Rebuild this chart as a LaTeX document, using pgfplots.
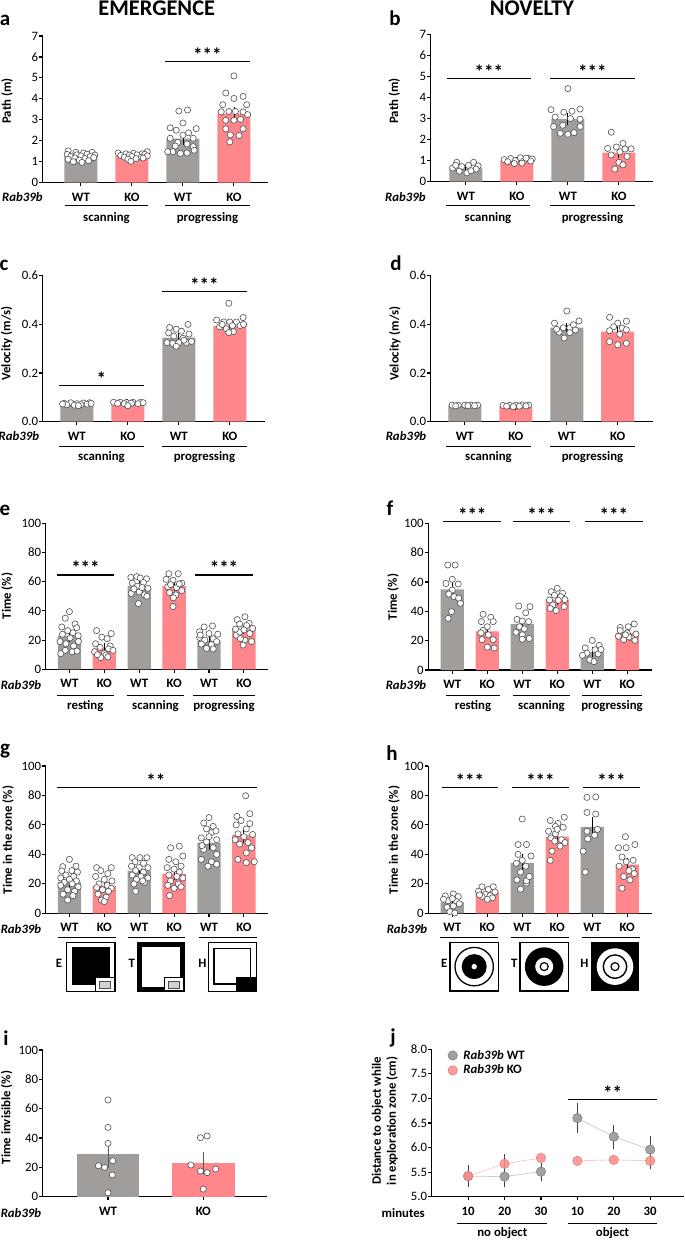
\documentclass[border=0pt]{standalone}
\usepackage{fontspec}
\setmainfont{Carlito}
\usepackage{pgfplots}
\pgfplotsset{compat=1.18}
\definecolor{wtg}{HTML}{A19D9B}
\definecolor{kop}{HTML}{FF878C}
\definecolor{dotc}{HTML}{505050}
\definecolor{jwt}{HTML}{A2A2A2}
\definecolor{jwtd}{HTML}{7A7A7A}
\definecolor{jko}{HTML}{FF8C8C}
\definecolor{jkod}{HTML}{E07474}
\pgfplotsset{
 base/.style={scale only axis, anchor=south west, clip=false,
   axis lines*=left, axis line style={line width=1.1pt, black, -},
   tick align=outside, major tick length=3.5pt,
   tick style={line width=1.1pt, black},
   ymin=0, scaled y ticks=false,
   /pgf/number format/assume math mode=true,
   xticklabel style={font=\bfseries, anchor=base, yshift=-15pt},
   yticklabel style={inner sep=1pt},
 },
 bar4/.style={base, xtick={0,1,2,3}, xticklabels={WT,KO,WT,KO}},
 bar6/.style={base, xtick={0,...,5}, xticklabels={WT,KO,WT,KO,WT,KO}, ymax=100, ytick={0,20,...,100}},
 pts/.style={only marks, mark=*, mark size=3.1pt, mark options={fill=white, draw=dotc, line width=0.6pt}},
 wbar/.style={ybar, bar shift=0pt, fill=wtg, draw=none},
 kbar/.style={ybar, bar shift=0pt, fill=kop, draw=none},
 eb/.style={draw=none, mark=none, forget plot, error bars/.cd, y dir=both, y explicit, error bar style={draw=black, line width=0.8pt}, error mark options={draw=black, line width=0.8pt, mark size=3pt}},
 ieb/.style={draw=none, mark=none, forget plot, error bars/.cd, y dir=both, y explicit, error bar style={draw=black!65, line width=0.8pt}, error mark options={draw=black!65, line width=0.8pt, mark size=3.5pt}},
 jeb/.style={draw=none, mark=none, forget plot, error bars/.cd, y dir=both, y explicit, error bar style={draw=black!75, line width=0.8pt}, error mark options={draw=black!75, line width=0.8pt, mark size=3.5pt}},
}
\tikzset{sig/.style={line width=1.1pt}, star/.style={font=\bfseries\fontsize{19}{19}\selectfont, inner sep=0pt, anchor=base},
 ylab/.style={rotate=90, font=\bfseries}, grp/.style={font=\bfseries, anchor=base},
 rab/.style={font=\bfseries\itshape, anchor=base east}, plet/.style={font=\bfseries\fontsize{21}{21}\selectfont, anchor=base}}
\begin{document}
\fontsize{12.8}{15}\selectfont
\begin{tikzpicture}
% ---------------- titles and letters
\node[font=\bfseries\fontsize{22.4}{24}\selectfont, anchor=base] at (156.7pt,-15.5pt) {EMERGENCE};
\node[font=\bfseries\fontsize{22.4}{24}\selectfont, anchor=base] at (532pt,-15.5pt) {NOVELTY};
\node[plet] at (5pt,-25pt) {a};
\node[plet] at (395pt,-25pt) {b};
\node[plet] at (4pt,-270pt) {c};
\node[plet] at (396pt,-270pt) {d};
\node[plet] at (5pt,-515pt) {e};
\node[plet] at (390pt,-515pt) {f};
\node[plet] at (5pt,-754pt) {g};
\node[plet] at (392pt,-760pt) {h};
\node[plet] at (6pt,-1045pt) {i};
\node[plet] at (393pt,-1043pt) {j};
% ---------------- y labels
\node[ylab] at (7.2pt,-101pt) {Path (m)};
\node[ylab] at (394.3pt,-101pt) {Path (m)};
\node[ylab] at (6.7pt,-343.5pt) {Velocity (m/s)};
\node[ylab] at (395pt,-343.5pt) {Velocity (m/s)};
\node[ylab] at (7.2pt,-596pt) {Time (\%)};
\node[ylab] at (393pt,-597pt) {Time (\%)};
\node[ylab] at (8pt,-840pt) {Time in the zone (\%)};
\node[ylab] at (394pt,-840pt) {Time in the zone (\%)};
\node[ylab] at (6.7pt,-1117.5pt) {Time invisible (\%)};
\node[ylab, align=center] at (385pt,-1121pt) {Distance to object while\\in exploration zone (cm)};
% ---------------- Rab39b labels
\node[rab] at (47pt,-201.7pt) {Rab39b};
\node[rab] at (430pt,-201.7pt) {Rab39b};
\node[rab] at (43.5pt,-440.7pt) {Rab39b};
\node[rab] at (430.7pt,-440.7pt) {Rab39b};
\node[rab] at (45.7pt,-689pt) {Rab39b};
\node[rab] at (430.7pt,-689pt) {Rab39b};
\node[rab] at (45.7pt,-933pt) {Rab39b};
\node[rab] at (431.7pt,-933pt) {Rab39b};
\node[rab] at (45.7pt,-1217pt) {Rab39b};
\node[font=\bfseries, anchor=base east] at (429.3pt,-1217pt) {minutes};
% ---------------- group underlines and labels
\foreach \a/\b/\y in {65/148/205, 165/250/205, 446/530/205, 550/635/205,
  59/144/446, 162/247/446, 446/531/446, 550/635/446,
  56.7/114/695, 126.7/184.3/695, 193/255/695, 446/500/695, 513/570/695, 582/642/695,
  57.7/115.7/937.7, 127.7/185/937.7, 199.3/256.7/937.7, 440/498.3/937.7, 510.7/569.3/937.7, 581.7/640/937.7,
  457.3/547.3/1223.3, 567.7/657.3/1223.3}
  {\draw[line width=1pt] (\a pt,-\y pt) -- (\b pt,-\y pt);}
\node[grp] at (106.5pt,-221pt) {scanning};
\node[grp] at (207.5pt,-221pt) {progressing};
\node[grp] at (488pt,-221pt) {scanning};
\node[grp] at (592.5pt,-221pt) {progressing};
\node[grp] at (101.5pt,-460.5pt) {scanning};
\node[grp] at (204.5pt,-460.5pt) {progressing};
\node[grp] at (488.5pt,-460.5pt) {scanning};
\node[grp] at (592.5pt,-460.5pt) {progressing};
\node[grp] at (85.3pt,-709pt) {resting};
\node[grp] at (155.5pt,-709pt) {scanning};
\node[grp] at (224pt,-709pt) {progressing};
\node[grp] at (473pt,-709pt) {resting};
\node[grp] at (541.5pt,-709pt) {scanning};
\node[grp] at (612pt,-709pt) {progressing};
\node[grp] at (502.3pt,-1236pt) {no object};
\node[grp] at (612.5pt,-1236pt) {object};
% ---------------- icons g
\node[grp] at (59pt,-967pt) {E};
\node[grp] at (131.7pt,-967pt) {T};
\node[grp] at (202.3pt,-967pt) {H};
\begin{scope}[shift={(66.7pt,-942.3pt)}, x=1pt, y=-1pt]
 \draw[line width=1.2pt] (0,0) rectangle (48.3,49.3);
 \fill (5,4.3) rectangle (43.3,42.7);
 \filldraw[fill=white, line width=1pt] (28.3,35.3) rectangle (47.7,48.7);
 \filldraw[fill=gray!35, draw=black!70, line width=0.5pt] (32.7,38.7) rectangle (44,45.5);
\end{scope}
\begin{scope}[shift={(136.7pt,-942.3pt)}, x=1pt, y=-1pt]
 \fill (0,0) rectangle (48.3,49.3);
 \fill[white] (5,4.3) rectangle (43.3,44.3);
 \filldraw[fill=white, line width=1pt] (27.3,35.3) rectangle (46.7,47.7);
 \filldraw[fill=gray!35, draw=black!70, line width=0.5pt] (31.7,38.7) rectangle (42.7,45.5);
\end{scope}
\begin{scope}[shift={(208.3pt,-942.3pt)}, x=1pt, y=-1pt]
 \draw[line width=1.2pt] (0,0) rectangle (48.3,49.3);
 \draw[line width=1.5pt] (5.7,6) rectangle (42.3,41.7);
 \fill (27.3,34.3) rectangle (47.7,48.7);
\end{scope}
% ---------------- icons h
\node[grp] at (444.3pt,-967pt) {E};
\node[grp] at (514.3pt,-967pt) {T};
\node[grp] at (584.3pt,-967pt) {H};
\begin{scope}[shift={(450pt,-942.3pt)}, x=1pt, y=-1pt]
 \draw[line width=1.2pt] (0,0) rectangle (48.3,48.7);
 \draw[line width=1.3pt] (24.2,24.3) circle (19.2pt);
 \fill (24.2,24.3) circle (12.5pt);
 \fill[white] (24.2,24.3) circle (2.7pt);
\end{scope}
\begin{scope}[shift={(520pt,-942.3pt)}, x=1pt, y=-1pt]
 \draw[line width=1.2pt] (0,0) rectangle (48.3,48.7);
 \fill (24.2,24.3) circle (19.3pt);
 \fill[white] (24.2,24.3) circle (9pt);
 \draw[line width=1.2pt] (24.2,24.3) circle (4pt);
\end{scope}
\begin{scope}[shift={(590.7pt,-942.3pt)}, x=1pt, y=-1pt]
 \fill (0,0) rectangle (48.7,48.7);
 \fill[white] (24.3,24.3) circle (18.3pt);
 \draw[line width=1.4pt] (24.3,24.3) circle (11.7pt);
 \draw[line width=1.2pt] (24.3,24.3) circle (4pt);
\end{scope}
% ================= panel a
\begin{axis}[bar4, at={(42.7pt,-182.7pt)}, width=225.3pt, height=146.7pt, xmin=-0.75, xmax=3.668, ymax=7, ytick={0,...,7}]
\addplot[wbar, bar width=33pt] coordinates {(0,1.25) (2,2.1)};
\addplot[kbar, bar width=33pt] coordinates {(1,1.27) (3,3.3)};
\addplot[pts] coordinates {(-0.25,1.52) (-0.1,1.45) (0.05,1.42) (0.22,1.45) (-0.27,1.35) (-0.08,1.33) (0.12,1.36) (0.27,1.32) (-0.2,1.25) (0.0,1.28) (0.18,1.25) (-0.12,1.18) (0.08,1.15) (0.25,1.2) (-0.25,1.12) (-0.03,1.08) (0.15,1.05) (-0.15,1.0) (0.02,0.97)
(0.73,1.42) (0.88,1.38) (1.03,1.40) (1.2,1.38) (1.3,1.48) (0.78,1.3) (0.95,1.32) (1.1,1.33) (1.25,1.35) (0.85,1.22) (1.0,1.25) (1.18,1.22) (1.3,1.28) (0.92,1.12) (1.08,1.15) (0.98,1.02) (1.22,1.18)
(1.92,3.42) (2.09,3.47) (2.0,2.85) (1.75,2.62) (1.87,2.5) (2.26,2.58) (2.11,2.38) (2.0,2.27) (1.75,2.12) (2.2,2.12) (1.9,1.92) (2.08,1.85) (1.85,1.75) (2.2,1.72) (1.8,1.48) (1.95,1.4) (2.08,1.42) (2.22,1.55) (1.7,1.48)
(3.0,5.1) (2.84,4.28) (3.18,4.12) (3.0,4.02) (2.78,3.72) (3.25,3.72) (2.75,3.38) (2.9,3.4) (3.03,3.4) (3.18,3.38) (3.27,3.25) (2.84,2.98) (3.0,2.98) (3.13,3.02) (2.84,2.57) (3.18,2.57) (2.93,2.28) (3.1,2.25) (2.92,1.95)};
\addplot[eb] coordinates {(0,1.25) +- (0,0.04) (1,1.27) +- (0,0.03) (2,2.1) +- (0,0.15) (3,3.3) +- (0,0.17)};
\draw[sig] (1.65,5.8) -- (3.32,5.8);
\node[star] at (2.48,5.8) {***};
\end{axis}
% ================= panel b
\begin{axis}[bar4, at={(430.7pt,-181.7pt)}, width=222.7pt, height=147.4pt, xmin=-0.69, xmax=3.677, ymax=7, ytick={0,...,7}]
\addplot[wbar, bar width=33pt] coordinates {(0,0.63) (2,2.98)};
\addplot[kbar, bar width=33pt] coordinates {(1,1.0) (3,1.38)};
\addplot[pts] coordinates {(-0.18,0.92) (0.15,0.92) (-0.26,0.65) (-0.08,0.72) (0.05,0.78) (0.24,0.75) (0.2,0.6) (-0.13,0.5) (0.02,0.42) (0.1,0.52) (-0.2,0.78)
(0.75,1.05) (0.88,1.1) (1.07,1.14) (1.23,1.1) (1.3,1.08) (0.82,0.95) (0.97,1.0) (1.13,0.98) (1.27,0.98) (0.95,0.86) (1.1,0.88) (1.18,1.12)
(2.0,4.42) (1.67,3.42) (1.92,3.3) (2.08,3.35) (2.24,3.45) (1.75,3.07) (2.05,3.0) (2.24,2.97) (1.9,2.68) (1.72,2.62) (2.24,2.62) (1.85,2.3) (2.12,2.33) (2.0,2.25)
(2.85,2.35) (3.08,1.82) (2.78,1.58) (2.95,1.65) (3.24,1.56) (3.02,1.42) (2.85,1.27) (3.16,1.2) (3.0,0.92) (3.08,0.8) (2.92,0.6) (3.12,1.55)};
\addplot[eb] coordinates {(0,0.63) +- (0,0.05) (1,1.0) +- (0,0.03) (2,2.98) +- (0,0.15) (3,1.38) +- (0,0.13)};
\draw[sig] (-0.37,4.91) -- (1.27,4.91);
\draw[sig] (1.65,4.91) -- (3.31,4.91);
\node[star] at (0.45,4.91) {***};
\node[star] at (2.48,4.91) {***};
\end{axis}
% ================= panel c
\begin{axis}[bar4, at={(42.7pt,-421.7pt)}, width=222.3pt, height=146pt, xmin=-0.67, xmax=3.69, ymax=0.6, ytick={0,0.2,0.4,0.6},
  yticklabel style={/pgf/number format/.cd, fixed, fixed zerofill, precision=1}]
\addplot[wbar, bar width=33pt] coordinates {(0,0.072) (2,0.346)};
\addplot[kbar, bar width=33pt] coordinates {(1,0.077) (3,0.394)};
\addplot[pts] coordinates {(-0.25,0.076) (-0.12,0.078) (0.0,0.074) (0.13,0.077) (0.25,0.078) (-0.2,0.07) (-0.05,0.068) (0.08,0.07) (0.2,0.072) (-0.28,0.073) (0.28,0.075) (0.03,0.066)
(0.72,0.08) (0.85,0.08) (0.97,0.079) (1.1,0.08) (1.25,0.08) (0.8,0.075) (0.93,0.074) (1.07,0.076) (1.2,0.074) (1.0,0.066) (1.3,0.078)
(2.18,0.40) (1.82,0.387) (1.95,0.38) (2.05,0.372) (1.8,0.365) (2.2,0.36) (1.9,0.352) (2.08,0.343) (1.77,0.325) (1.88,0.322) (2.0,0.325) (2.15,0.325) (2.25,0.33) (1.95,0.31) (2.1,0.335)
(2.98,0.487) (2.74,0.418) (2.88,0.41) (3.0,0.41) (3.13,0.41) (3.26,0.428) (2.8,0.39) (3.05,0.395) (3.2,0.395) (2.93,0.382) (3.07,0.37) (2.98,0.366) (3.27,0.4) (2.85,0.4)};
\addplot[eb] coordinates {(0,0.072) +- (0,0.002) (1,0.077) +- (0,0.002) (2,0.346) +- (0,0.006) (3,0.394) +- (0,0.007)};
\draw[sig] (-0.35,0.148) -- (1.31,0.148);
\draw[sig] (1.67,0.536) -- (3.33,0.536);
\node[star] at (0.48,0.148) {*};
\node[star] at (2.5,0.536) {***};
\end{axis}
% ================= panel d
\begin{axis}[bar4, at={(430.7pt,-421.7pt)}, width=222.7pt, height=146pt, xmin=-0.67, xmax=3.70, ymax=0.6, ytick={0,0.2,0.4,0.6},
  yticklabel style={/pgf/number format/.cd, fixed, fixed zerofill, precision=1}]
\addplot[wbar, bar width=33pt] coordinates {(0,0.067) (2,0.387)};
\addplot[kbar, bar width=33pt] coordinates {(1,0.063) (3,0.37)};
\addplot[pts] coordinates {(-0.25,0.068) (-0.13,0.068) (0.0,0.068) (0.12,0.068) (0.25,0.068) (-0.18,0.065) (0.06,0.066) (0.19,0.066)
(0.75,0.067) (0.88,0.067) (1.0,0.068) (1.12,0.069) (1.25,0.068) (0.82,0.064) (0.95,0.062) (1.07,0.064) (1.2,0.065)
(2.0,0.455) (1.76,0.405) (2.24,0.414) (1.93,0.386) (2.06,0.386) (2.17,0.377) (1.85,0.368) (2.06,0.366) (1.95,0.344) (2.13,0.398) (1.8,0.38)
(2.84,0.429) (3.0,0.405) (3.17,0.413) (2.92,0.39) (3.09,0.385) (2.84,0.374) (3.17,0.378) (3.04,0.359) (2.84,0.329) (3.0,0.316) (3.17,0.322)};
\addplot[eb] coordinates {(0,0.067) +- (0,0.001) (1,0.063) +- (0,0.001) (2,0.387) +- (0,0.008) (3,0.37) +- (0,0.01)};
\end{axis}
% ================= panel e
\begin{axis}[bar6, at={(45.7pt,-669.3pt)}, width=222.6pt, height=146pt, xmin=-0.68, xmax=5.70]
\addplot[wbar, bar width=23.3pt] coordinates {(0,22.7) (2,57) (4,19.5)};
\addplot[kbar, bar width=23.3pt] coordinates {(1,14.3) (3,57) (5,27.4)};
\addplot[pts] coordinates {(0.0,39.5) (-0.12,35) (0.16,31) (-0.22,29) (0.21,28.5) (-0.05,26.5) (0.1,25) (-0.2,24) (0.25,23) (0.02,21.5) (-0.27,19) (0.26,19) (-0.1,17.5) (0.12,16) (-0.12,13) (0.08,12) (-0.25,10.8) (0.22,12.5)
(0.78,26.5) (1.2,24.5) (0.93,22) (1.08,21) (0.75,17.5) (1.17,16) (0.88,15) (1.12,14) (0.72,12) (1.0,11) (1.25,13) (1.05,9.8) (0.9,8) (1.1,8.5) (0.8,10)
(1.76,63) (1.93,63.5) (2.21,62) (2.03,62.5) (1.8,59) (2.12,59.5) (1.95,57) (2.25,55.5) (1.77,52) (2.0,53) (2.15,51) (2.22,50) (1.98,45) (1.85,55) (2.08,56)
(2.85,65.5) (3.12,65.5) (2.77,61.6) (2.97,61) (3.22,59) (2.82,56.6) (3.07,56) (3.22,53.9) (2.87,52.5) (3.05,51) (2.98,49) (2.97,43) (3.15,58.5) (2.9,58)
(4.1,29.7) (3.86,29) (3.73,25.7) (4.0,24.5) (3.73,21.8) (4.12,21) (3.88,20) (3.78,17.3) (4.07,17) (3.93,14.3) (4.12,14) (4.25,24) (4.22,19) (3.75,23.5)
(5.03,36) (4.81,34) (5.15,31.5) (4.88,31) (5.08,30) (4.78,23.4) (5.17,24.5) (4.88,25.5) (5.03,20) (5.22,19) (4.98,16.6) (4.76,27.5) (5.25,28) (5.0,27) (4.9,21)};
\addplot[eb] coordinates {(0,22.7) +- (0,2) (1,14.3) +- (0,1.5) (2,57) +- (0,1.3) (3,57) +- (0,1.5) (4,19.5) +- (0,1) (5,27.4) +- (0,1.2)};
\draw[sig] (-0.36,64.6) -- (1.28,64.6);
\draw[sig] (3.6,64.6) -- (5.26,64.6);
\node[star] at (0.46,64.6) {***};
\node[star] at (4.43,64.6) {***};
\end{axis}
% ================= panel f
\begin{axis}[bar6, at={(428.3pt,-670pt)}, width=223.4pt, height=146.7pt, xmin=-0.686, xmax=5.70]
\addplot[wbar, bar width=23.3pt] coordinates {(0,55) (2,31.4) (4,12.2)};
\addplot[kbar, bar width=23.3pt] coordinates {(1,26.4) (3,47.7) (5,25.3)};
\addplot[pts] coordinates {(-0.13,71.6) (0.08,71.6) (0.0,61.8) (-0.18,59) (0.17,58.6) (0.0,54.5) (-0.1,51.8) (0.05,50) (0.23,45.5) (-0.02,39.8) (-0.12,35.2) (0.18,49)
(0.88,38) (1.1,36) (1.17,33) (0.83,33) (1.0,29.5) (0.88,27) (0.82,25.3) (1.03,24) (0.85,20.7) (1.17,20.7) (1.0,15.6) (1.2,15)
(1.9,43.6) (2.22,43.2) (2.1,39) (1.85,34.5) (2.0,33.4) (2.18,33) (1.92,29.5) (2.06,28) (1.82,25.7) (2.0,24) (2.0,21) (2.2,21.5)
(3.0,55.7) (2.83,53.4) (3.15,52.3) (2.92,51) (3.1,50) (2.78,47.7) (3.03,47.5) (2.87,44.3) (3.2,43.2) (2.97,40.5) (3.22,48) (2.8,42)
(4.0,20.2) (4.2,16.8) (3.8,15) (4.08,13.8) (3.85,11.5) (4.17,11) (3.93,6.9) (4.05,5.7) (3.72,10) (4.25,14)
(5.2,31.4) (5.03,29.5) (4.8,29) (4.8,27) (5.0,25.3) (4.75,23) (5.13,21.8) (4.9,20.7) (5.22,20.2) (5.05,22.5) (4.95,24) (5.25,24.5)};
\addplot[eb] coordinates {(0,55) +- (0,3.5) (1,26.4) +- (0,2) (2,31.4) +- (0,2.2) (3,47.7) +- (0,1.3) (4,12.2) +- (0,1.3) (5,25.3) +- (0,0.9)};
\draw[sig] (-0.26,101) -- (1.39,101);
\draw[sig] (1.73,101) -- (3.36,101);
\draw[sig] (3.79,101) -- (5.44,101);
\node[star] at (0.57,101) {***};
\node[star] at (2.55,101) {***};
\node[star] at (4.62,101) {***};
\end{axis}
% ================= panel g
\begin{axis}[bar6, at={(45.7pt,-913.3pt)}, width=222.6pt, height=147.3pt, xmin=-0.68, xmax=5.70]
\addplot[wbar, bar width=23.3pt] coordinates {(0,21.4) (2,29) (4,48)};
\addplot[kbar, bar width=23.3pt] coordinates {(1,18.6) (3,27) (5,53)};
\addplot[pts] coordinates {(0.0,36.6) (-0.19,31.7) (0.19,32) (-0.22,28.8) (0.07,29) (0.23,28) (-0.1,26) (0.12,25) (-0.25,24) (0.0,23) (0.2,22) (-0.15,21) (0.08,20) (-0.25,19) (0.25,18) (-0.05,16) (0.15,15) (-0.18,13) (0.1,12) (-0.05,9)
(0.78,31) (1.2,31) (0.9,29) (1.1,27) (0.75,25) (1.0,23) (1.22,22) (0.85,20) (1.08,19) (0.78,17.5) (1.2,17) (0.95,16) (1.12,15) (0.82,13) (1.05,11) (0.92,9) (1.0,8)
(1.8,37.8) (2.02,37.8) (2.22,37.8) (1.88,35) (2.12,34) (1.78,32) (2.0,31) (2.25,31) (1.9,29) (2.12,28) (1.8,26) (2.05,25) (2.25,24) (1.92,23) (2.15,21) (2.1,22) (1.85,20) (1.9,15)
(3.15,45.6) (2.9,44.5) (3.25,38.9) (2.85,36.6) (3.05,35) (3.2,32) (2.8,31) (3.0,30) (3.15,28) (2.85,26) (3.08,25) (3.25,24) (2.9,22) (3.12,20) (2.82,19) (3.0,17) (3.2,18) (2.87,12)
(4.0,65) (3.85,61.3) (4.12,59) (3.93,57.3) (4.08,55) (3.78,51.2) (4.22,50) (3.93,48.5) (4.12,44.5) (3.85,43.4) (4.22,40) (3.78,36.6) (4.07,35) (4.22,33.3) (3.97,32) (3.8,46) (4.0,52) (4.2,56)
(5.05,79.8) (5.17,67.6) (4.8,65.8) (4.92,63) (5.17,60.9) (4.78,60) (5.07,57.3) (4.83,54) (5.25,53.5) (5.0,52) (5.12,48) (4.88,47) (5.22,44.5) (5.07,41) (4.83,36.6) (5.3,35) (5.07,34.4) (4.75,50)};
\addplot[eb] coordinates {(0,21.4) +- (0,1.8) (1,18.6) +- (0,1.7) (2,29) +- (0,1.5) (3,27) +- (0,2.5) (4,48) +- (0,3) (5,53) +- (0,3)};
\draw[sig] (-0.35,85.6) -- (5.38,85.6);
\node[star] at (2.48,85.6) {**};
\end{axis}
% ================= panel h
\begin{axis}[bar6, at={(428.3pt,-913.3pt)}, width=223.4pt, height=147.3pt, xmin=-0.686, xmax=5.70]
\addplot[wbar, bar width=23.3pt] coordinates {(0,7.5) (2,34) (4,58.7)};
\addplot[kbar, bar width=23.3pt] coordinates {(1,14.3) (3,52) (5,33)};
\addplot[pts] coordinates {(-0.2,11.8) (0.03,13.2) (0.17,11.4) (-0.12,8.6) (0.12,8) (-0.15,4) (0.03,5) (-0.07,1.1) (0.07,0.2) (0.2,6.5) (-0.25,9.5) (0.0,10)
(0.85,18) (1.17,18) (1.03,16.2) (0.75,15) (1.22,14.5) (0.95,13) (1.08,12) (0.85,11.5) (1.15,10.5) (1.0,9.5) (0.78,12.5)
(2.0,64) (1.88,46.7) (2.12,46.7) (1.88,40) (2.25,38.9) (2.0,36) (1.83,34) (2.1,32) (1.85,22.7) (2.12,20.5) (1.95,16.4) (2.12,22) (2.2,25) (1.95,28)
(3.2,65.2) (2.8,63) (3.02,61) (2.95,59) (3.17,58.4) (2.75,55.7) (2.95,54) (2.82,51.2) (3.12,50) (2.93,49) (3.08,45.6) (2.85,42.2) (2.8,36) (3.22,48) (3.0,57)
(3.85,78.7) (4.1,79) (3.85,68.5) (4.1,67.4) (3.85,55.7) (4.07,53) (3.87,50.5) (3.74,42.2) (3.8,28) (4.15,57)
(4.95,52) (5.22,46.7) (4.75,44.5) (4.97,44.5) (4.85,38.2) (5.17,36) (4.97,35) (4.77,32) (5.15,30) (5.08,22.7) (4.85,17) (5.2,27) (4.9,25) (5.05,29)};
\addplot[eb] coordinates {(0,7.5) +- (0,1.3) (1,14.3) +- (0,0.9) (2,34) +- (0,4) (3,52) +- (0,2.3) (4,58.7) +- (0,4.5) (5,33) +- (0,2.5)};
\draw[sig] (-0.3,85.4) -- (1.31,85.4);
\draw[sig] (1.7,85.4) -- (3.34,85.4);
\draw[sig] (3.73,85.4) -- (5.36,85.4);
\node[star] at (0.5,85.4) {***};
\node[star] at (2.52,85.4) {***};
\node[star] at (4.55,85.4) {***};
\end{axis}
% ================= panel i
\begin{axis}[base, at={(42.7pt,-1196.7pt)}, width=224pt, height=146.7pt, xmin=-0.685, xmax=1.665, ymax=100, ytick={0,20,...,100}, xtick={0,1}, xticklabels={WT,KO}]
\addplot[wbar, bar width=62.7pt] coordinates {(0,29)};
\addplot[kbar, bar width=62.7pt] coordinates {(1,23.3)};
\addplot[pts] coordinates {(0,66) (0,47.3) (0,36.4) (0.05,24.5) (-0.1,21.1) (-0.035,20) (0.045,14.8) (0,2.7)
(0.97,40.2) (1.04,41.4) (0.87,21.6) (0.97,17.5) (1.04,16.4) (1.13,18.9) (1.0,5.2)};
\addplot[ieb] coordinates {(0,29) +- (0,7.3) (1,23.3) +- (0,5.1)};
\end{axis}
% ================= panel j
\begin{axis}[base, at={(431.7pt,-1196.7pt)}, width=252pt, height=147.4pt, xmin=0, xmax=6.92, ymin=5, ymax=8,
  ytick={5,5.5,...,8}, yticklabel style={/pgf/number format/.cd, fixed, fixed zerofill, precision=1},
  xtick={1,...,6}, xticklabels={10,20,30,10,20,30},
  legend style={at={(axis cs:0.36,8.05)}, anchor=north west, draw=none, fill=none, font=\bfseries, row sep=2pt, nodes={inner sep=1pt},
    /tikz/every odd column/.append style={column sep=5pt}},
  legend cell align=left]
\addplot[forget plot, line width=0.8pt, black!20] coordinates {(1,5.42) (2,5.41) (3,5.51)};
\addplot[forget plot, line width=0.8pt, black!20] coordinates {(4,6.6) (5,6.22) (6,5.96)};
\addplot[forget plot, line width=0.8pt, kop!45] coordinates {(1,5.42) (2,5.67) (3,5.79)};
\addplot[forget plot, line width=0.8pt, kop!45] coordinates {(4,5.73) (5,5.75) (6,5.73)};
\addplot[only marks, mark=*, mark size=4.7pt, mark options={fill=jwt, draw=jwtd, line width=0.5pt}] coordinates {(1,5.42) (2,5.41) (3,5.51) (4,6.6) (5,6.22) (6,5.96)};
\addlegendentry{\textit{Rab39b} WT}
\addplot[only marks, mark=*, mark size=4.7pt, mark options={fill=jko, draw=jkod, line width=0.5pt, fill opacity=0.85}] coordinates {(1,5.42) (2,5.67) (3,5.79) (4,5.73) (5,5.75) (6,5.73)};
\addlegendentry{\textit{Rab39b} KO}
\addplot[jeb] coordinates {(1,5.42) +- (0,0.15) (2,5.41) +- (0,0.14) (3,5.51) +- (0,0.11) (4,6.6) +- (0,0.23) (5,6.22) +- (0,0.17) (6,5.96) +- (0,0.21)};
\addplot[jeb] coordinates {(2,5.67) +- (0,0.12) (6,5.73) +- (0,0.1)};
\draw[sig] (3.74,6.97) -- (6.2,6.97);
\node[star] at (4.97,6.97) {**};
\end{axis}
\pgfresetboundingbox
\useasboundingbox (0,0) rectangle (685pt,-1240pt);
\end{tikzpicture}
\end{document}
